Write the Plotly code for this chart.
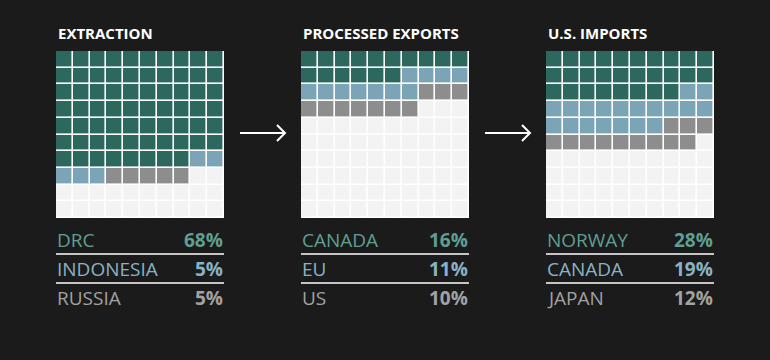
import plotly.graph_objects as go

W, H = 770, 360
BG = "#1b1b1b"

titles = ["EXTRACTION", "PROCESSED EXPORTS", "U.S. IMPORTS"]
names = [["DRC", "INDONESIA", "RUSSIA"],
         ["CANADA", "EU", "US"],
         ["NORWAY", "CANADA", "JAPAN"]]
values = [[68, 5, 5],
          [16, 11, 10],
          [28, 19, 12]]

cell_colors = ["#f3f3f3", "#2c685d", "#7ba5b7", "#8d8d8d"]
text_colors = ["#5f9f93", "#89b3c5", "#a2a2a2"]

FONT = "Open Sans"

# panel left edges / size in pixels (layout only)
panel_x = [56, 301, 546]
grid_w = 168
grid_top, grid_bot = 51, 218

def px(x):
    return x / W

def py(y):
    return 1 - y / H

fig = go.Figure()

for i in range(3):
    # build 10x10 waffle
    flat = []
    for k, v in enumerate(values[i]):
        flat += [k + 1] * v
    flat += [0] * (100 - len(flat))
    z = [flat[r * 10:(r + 1) * 10] for r in range(10)]
    ax = "" if i == 0 else str(i + 1)
    fig.add_trace(go.Heatmap(
        z=z, x=list(range(10)), y=list(range(10)),
        zmin=0, zmax=3,
        colorscale=[[0, cell_colors[0]], [1/3, cell_colors[1]],
                    [2/3, cell_colors[2]], [1, cell_colors[3]]],
        showscale=False, xgap=1.6, ygap=1.6, hoverinfo="skip",
        xaxis="x" + ax, yaxis="y" + ax,
    ))
    dom_x = [px(panel_x[i]), px(panel_x[i] + grid_w)]
    dom_y = [py(grid_bot), py(grid_top)]
    fig.layout["xaxis" + ax] = dict(domain=dom_x, range=[-0.5, 9.5], visible=False,
                                    anchor="y" + ax, fixedrange=True)
    fig.layout["yaxis" + ax] = dict(domain=dom_y, range=[9.5, -0.5], visible=False,
                                    anchor="x" + ax, fixedrange=True)

    # title
    fig.add_annotation(x=px(panel_x[i]), y=py(33), xref="paper", yref="paper",
                       text="<b>" + titles[i] + "</b>", showarrow=False,
                       xanchor="left", yanchor="middle",
                       font=dict(family=FONT, size=15, color="#ffffff"))
    # legend rows
    row_y = [240, 269, 298]
    for k in range(3):
        fig.add_annotation(x=px(panel_x[i] - 1), y=py(row_y[k]), xref="paper", yref="paper",
                           text=names[i][k], showarrow=False, xanchor="left",
                           yanchor="middle",
                           font=dict(family=FONT, size=19, color=text_colors[k]))
        fig.add_annotation(x=px(panel_x[i] + grid_w + 1), y=py(row_y[k]), xref="paper",
                           yref="paper", text="<b>%d%%</b>" % values[i][k],
                           showarrow=False, xanchor="right", yanchor="middle",
                           font=dict(family=FONT, size=19, color=text_colors[k]))
    for ly in [254, 283]:
        fig.add_shape(type="line", xref="paper", yref="paper",
                      x0=px(panel_x[i]), x1=px(panel_x[i] + grid_w),
                      y0=py(ly), y1=py(ly), line=dict(color="#ffffff", width=1.5))

# arrows between panels
for ax0 in [240, 485]:
    fig.add_shape(type="line", xref="paper", yref="paper",
                  x0=px(ax0), x1=px(ax0 + 45), y0=py(133), y1=py(133),
                  line=dict(color="#ffffff", width=2))
    fig.add_shape(type="path", xref="paper", yref="paper",
                  path="M %f %f L %f %f L %f %f" % (px(ax0 + 37), py(125), px(ax0 + 45),
                                                    py(133), px(ax0 + 37), py(141)),
                  line=dict(color="#ffffff", width=2))

fig.update_layout(width=W, height=H, margin=dict(l=0, r=0, t=0, b=0),
                  paper_bgcolor=BG, plot_bgcolor="#ffffff", showlegend=False)

fig.write_html("out.html", config={"displayModeBar": False},
               post_script="document.body.style.margin='0';document.body.style.background='%s';" % BG)
